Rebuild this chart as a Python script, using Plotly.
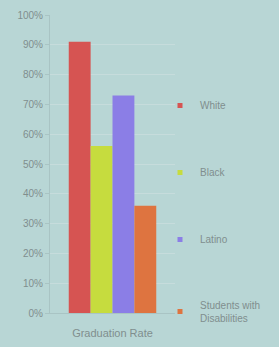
import plotly.graph_objects as go

categories = ["Graduation Rate"]
series_names = ["White", "Black", "Latino", "Students with<br>Disabilities"]
series_values = [[0.91], [0.56], [0.73], [0.36]]
colors = ["#d65452", "#c6dc3e", "#8b7ee6", "#de7440"]
y_ticks = [0, 0.1, 0.2, 0.3, 0.4, 0.5, 0.6, 0.7, 0.8, 0.9, 1.0]
y_tick_labels = ["0%", "10%", "20%", "30%", "40%", "50%", "60%", "70%", "80%", "90%", "100%"]

fig = go.Figure()
for name, vals, col in zip(series_names, series_values, colors):
    fig.add_trace(go.Bar(x=categories, y=vals, name=name, marker_color=col,
                         marker_line_width=0, showlegend=False))
# small square legend keys
for name, col in zip(series_names, colors):
    fig.add_trace(go.Scatter(x=[None], y=[None], name=name, mode="markers",
                             marker=dict(symbol="square", size=5, color=col),
                             legendgroup=name, showlegend=True))

bg = "#b8d6d5"
fig.update_layout(
    width=279, height=347,
    paper_bgcolor=bg, plot_bgcolor=bg,
    margin=dict(l=50, r=104, t=15, b=34, autoexpand=False),
    barmode="group", bargap=0.3, bargroupgap=0,
    font=dict(family="Liberation Sans", size=10, color="#808e8e"),
    legend=dict(x=0.88, xanchor="left", y=0.745, yanchor="top",
                tracegroupgap=48, bgcolor="rgba(0,0,0,0)",
                font=dict(size=10, color="#808e8e"), itemwidth=30,
                traceorder="grouped"),
    showlegend=True,
)
fig.update_yaxes(range=[0, 1.0], tickvals=y_ticks, ticktext=y_tick_labels,
                 showgrid=True, gridcolor="#c6dcdc", gridwidth=1,
                 ticks="outside", ticklen=4, tickcolor="#a9c4c4",
                 showline=True, linecolor="#a9c4c4", zeroline=False)
fig.update_xaxes(showgrid=False, showline=True, linecolor="#a9c4c4",
                 ticks="outside", ticklen=10, tickcolor="rgba(0,0,0,0)",
                 tickfont=dict(size=11))

fig.write_html("out.html", config={"displayModeBar": False},
               post_script="document.body.style.margin='0';")
